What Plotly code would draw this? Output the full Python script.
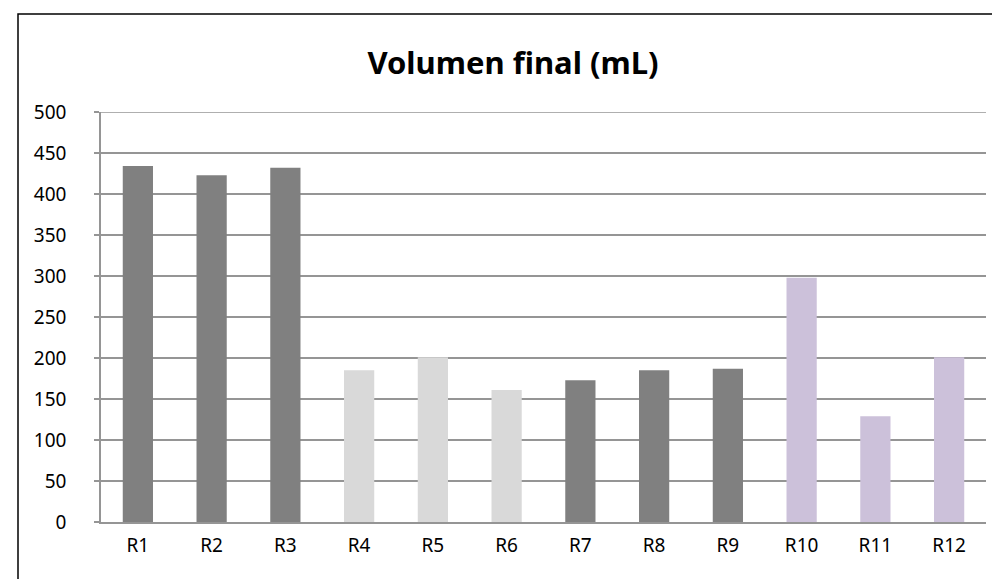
import plotly.graph_objects as go

# Datos
categorias = ["R1", "R2", "R3", "R4", "R5", "R6", "R7", "R8", "R9", "R10", "R11", "R12"]
volumen = [434, 423, 432, 185, 201, 161, 173, 185, 187, 298, 129, 201]
grupo = ["a", "a", "a", "b", "b", "b", "a", "a", "a", "c", "c", "c"]

colores_grupo = {"a": "#808080", "b": "#d9d9d9", "c": "#ccc1da"}
FONT = "Noto Sans"
GRID = "#959595"
Y_MAX = 500

W, H = 1000, 579
L, R, T, B = 93, 22, 104, 65
pw, ph = W - L - R, H - T - B


def px_to_paper_x(x):
    return (x - L) / pw


def px_to_paper_y(y):
    return (H - B - y) / ph


fig = go.Figure()
fig.add_trace(go.Bar(
    x=categorias, y=volumen,
    marker=dict(color=[colores_grupo[g] for g in grupo], line=dict(width=0)),
    showlegend=False,
))

fig.update_layout(
    width=W, height=H,
    margin=dict(l=L, r=R, t=T, b=B),
    paper_bgcolor="white", plot_bgcolor="white",
    bargap=0.59,
    font=dict(family=FONT, size=19, color="#000000"),
    title=dict(text="<b>Volumen final (mL)</b>", x=0.505, xanchor="center",
               y=1 - 55 / H, yanchor="middle",
               font=dict(family=FONT, size=31, color="#000000")),
    xaxis=dict(showgrid=False, showline=True, linecolor=GRID, linewidth=1.5,
               ticks="", ticklabelstandoff=5, tickfont=dict(size=19)),
    yaxis=dict(range=[0, Y_MAX], tickvals=list(range(0, Y_MAX + 1, 50)), showgrid=True,
               gridcolor=GRID, gridwidth=1.5,
               showline=True, linecolor=GRID, linewidth=1.5,
               ticks="outside", ticklen=5, tickcolor=GRID, tickwidth=1.5,
               ticklabelstandoff=24, zeroline=False, tickfont=dict(size=19)),
    shapes=[
        dict(type="rect", xref="paper", yref="paper",
             x0=px_to_paper_x(10), x1=px_to_paper_x(998.5),
             y0=px_to_paper_y(578), y1=px_to_paper_y(6),
             line=dict(color="#000000", width=1.5), layer="below"),
        # linea de cuadricula superior (plotly la omite en el borde)
        dict(type="line", xref="paper", yref="y", x0=0, x1=1, y0=Y_MAX, y1=Y_MAX,
             line=dict(color=GRID, width=1.5)),
    ],
)

fig.write_html("out.html")
